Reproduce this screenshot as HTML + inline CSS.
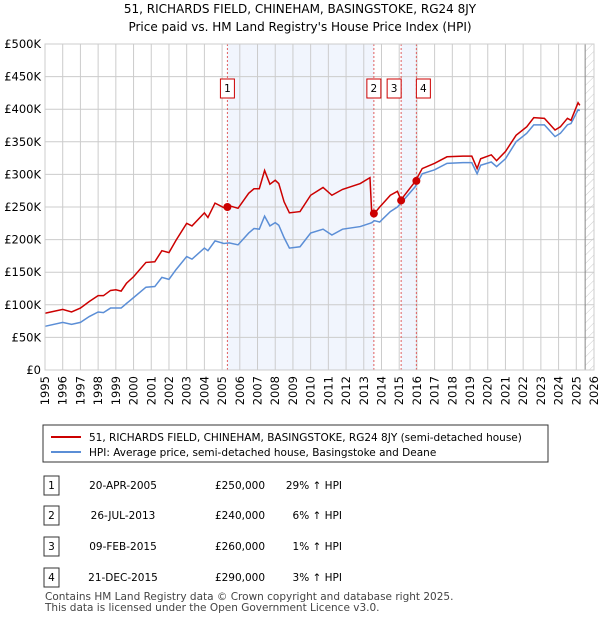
<!DOCTYPE html>
<html><head><meta charset="utf-8"><style>
body{margin:0;background:#fff;font-family:"Liberation Sans","DejaVu Sans",sans-serif;}
svg text{font-family:"DejaVu Sans","Liberation Sans",sans-serif;}
</style></head><body>
<svg id="c" width="600" height="620" xmlns="http://www.w3.org/2000/svg">
<defs><pattern id="hatch" width="6" height="6" patternUnits="userSpaceOnUse" patternTransform="rotate(45)"><line x1="0" y1="0" x2="0" y2="6" stroke="#ccc" stroke-width="1"/></pattern></defs>
<text x="300" y="13" text-anchor="middle" font-size="12">51, RICHARDS FIELD, CHINEHAM, BASINGSTOKE, RG24 8JY</text>
<text x="300" y="31" text-anchor="middle" font-size="12">Price paid vs. HM Land Registry's House Price Index (HPI)</text>
<g id="plot"></g>
<g>
<rect x="43" y="425" width="505" height="37" fill="#fff" stroke="#333"/>
<line x1="51" y1="437" x2="81" y2="437" stroke="#cc0000" stroke-width="2"/>
<text x="89" y="441" font-size="10.5">51, RICHARDS FIELD, CHINEHAM, BASINGSTOKE, RG24 8JY (semi-detached house)</text>
<line x1="51" y1="452" x2="81" y2="452" stroke="#5b8ed6" stroke-width="2"/>
<text x="89" y="456" font-size="10.5">HPI: Average price, semi-detached house, Basingstoke and Deane</text>
</g>
<g id="table" font-size="10.5"></g>
<text x="45" y="600" font-size="10.5" fill="#444">Contains HM Land Registry data © Crown copyright and database right 2025.</text>
<text x="45" y="611" font-size="10.5" fill="#444">This data is licensed under the Open Government Licence v3.0.</text>
</svg>
<script>
const years=[1995,1996,1996.5,1997,1997.5,1998,1998.3,1998.7,1999,1999.3,1999.6,2000,2000.7,2001.2,2001.6,2002,2002.4,2003,2003.3,2004,2004.2,2004.6,2005.1,2005.4,2005.9,2006.5,2006.8,2007.1,2007.4,2007.7,2008,2008.2,2008.5,2008.8,2009.4,2010,2010.7,2011.2,2011.8,2012.8,2013.35,2013.45,2013.6,2013.9,2014.5,2014.9,2015.1,2015.9,2016.3,2017,2017.7,2018.6,2019.1,2019.4,2019.6,2020.2,2020.5,2021,2021.6,2022.2,2022.6,2023.2,2023.8,2024.1,2024.5,2024.7,2025.1,2025.2];
const hpiValues=[67,73,70,73,82,89,88,95,95,95,102,111,127,128,142,139,154,174,170,187,183,198,194,195,192,210,217,216,236,221,226,222,203,187,189,210,216,207,216,220,225,226,229,227,243,250,256,281,301,307,317,318,318,301,314,319,312,324,350,363,376,376,358,363,376,378,399,398];
const priceValues=[87,93,89,95,105,114,114,122,123,121,133,143,165,166,183,180,199,225,221,241,234,256,249,252,248,271,278,278,306,285,291,286,258,241,243,268,280,268,277,286,295,240,240,250,268,274,261,289,309,317,327,328,328,309,324,330,321,335,360,373,387,386,368,373,386,383,410,406];
const saleYears=[2005.3,2013.57,2015.11,2015.97];
const salePrices=[250,240,260,290];
const saleLabels=["1","2","3","4"];
const saleDates=["20-APR-2005","26-JUL-2013","09-FEB-2015","21-DEC-2015"];
const salePriceText=["£250,000","£240,000","£260,000","£290,000"];
const saleHpiText=["29% ↑ HPI","6% ↑ HPI","1% ↑ HPI","3% ↑ HPI"];
const yTicks=[0,50,100,150,200,250,300,350,400,450,500];
const yTickLabels=["£0","£50K","£100K","£150K","£200K","£250K","£300K","£350K","£400K","£450K","£500K"];
const xTicks=[1995,1996,1997,1998,1999,2000,2001,2002,2003,2004,2005,2006,2007,2008,2009,2010,2011,2012,2013,2014,2015,2016,2017,2018,2019,2020,2021,2022,2023,2024,2025,2026];

const NS="http://www.w3.org/2000/svg";
const X0=45,X1=594,Y0=370,Y1=44;
const xs=y=>X0+(y-1995)/(2026-1995)*(X1-X0);
const ys=v=>Y0-v/500*(Y0-Y1);
const plot=document.getElementById('plot');
function mk(tag,attrs,parent){const e=document.createElementNS(NS,tag);for(const k in attrs)e.setAttribute(k,attrs[k]);(parent||plot).appendChild(e);return e;}

let s=mk('rect',{x:xs(saleYears[0]),y:Y1,width:xs(saleYears[1])-xs(saleYears[0]),height:Y0-Y1,fill:'#eef3fc',opacity:0.8});


s=mk('rect',{x:xs(saleYears[2]),y:Y1,width:xs(saleYears[3])-xs(saleYears[2]),height:Y0-Y1,fill:'#eef3fc',opacity:0.8});


const hx=xs(2025.5);
s=mk('rect',{x:hx,y:Y1,width:X1-hx,height:Y0-Y1,fill:'url(#hatch)'});



yTicks.forEach((v,i)=>{
  const l=mk('line',{x1:X0,x2:X1,y1:ys(v),y2:ys(v),stroke:'#ccc','stroke-width':1});
  
  
  const t=mk('text',{x:X0-4,y:ys(v)+4,'text-anchor':'end','font-size':11.5});
  t.textContent=yTickLabels[i];
  
  
});
xTicks.forEach(yr=>{
  const l=mk('line',{x1:xs(yr),x2:xs(yr),y1:Y1,y2:Y0,stroke:'#ccc','stroke-width':1});
  
  
  const t=mk('text',{x:0,y:0,'text-anchor':'end','font-size':11.5,transform:`translate(${xs(yr)+4},${Y0+6}) rotate(-90)`});
  t.textContent=yr;
  
  
});
const ln=mk('line',{x1:hx,x2:hx,y1:Y1,y2:Y0,stroke:'#888','stroke-width':1});



saleYears.forEach((yr,i)=>{
  const l=mk('line',{x1:xs(yr),x2:xs(yr),y1:Y1,y2:Y0,stroke:'#e06060','stroke-width':1,'stroke-dasharray':'2,2'});
  
  
});

const hp=mk('polyline',{points:years.map((y,i)=>xs(y)+','+ys(hpiValues[i])).join(' '),fill:'none',stroke:'#5b8ed6','stroke-width':1.5});


const pp=mk('polyline',{points:years.map((y,i)=>xs(y)+','+ys(priceValues[i])).join(' '),fill:'none',stroke:'#cc0000','stroke-width':1.5});



saleYears.forEach((yr,i)=>{
  const c=mk('circle',{cx:xs(yr),cy:ys(salePrices[i]),r:4,fill:'#cc0000'});
  
  
  const bx=(i==2)?xs(yr)-14:(i==3?xs(yr):xs(yr)-7);
  const r=mk('rect',{x:bx,y:79,width:14,height:19,fill:'#fff',stroke:'#cc0000'});
  
  
  const t=mk('text',{x:bx+7,y:92,'text-anchor':'middle','font-size':10.5});
  t.textContent=saleLabels[i];
  
  
});
const fr=mk('rect',{x:X0,y:Y1,width:X1-X0,height:Y0-Y1,fill:'none',stroke:'#ccc'});



const tb=document.getElementById('table');
const rowY=[485,515,546,577];
saleLabels.forEach((lab,i)=>{
  const y=rowY[i];
  const r=mk('rect',{x:44,y:y-9,width:15,height:19,fill:'#fff',stroke:'#333'},tb);
  
  
  const cells=[[51.5,lab,'middle'],[123,saleDates[i],'middle'],[240,salePriceText[i],'middle'],[342,saleHpiText[i],'end']];
  cells.forEach(([x,txt,a],j)=>{
    const t=mk('text',{x:x,y:y+4,'text-anchor':a,'font-size':10.5},tb);
    t.textContent=txt;
    
    
  });
});
</script>
</body></html>
